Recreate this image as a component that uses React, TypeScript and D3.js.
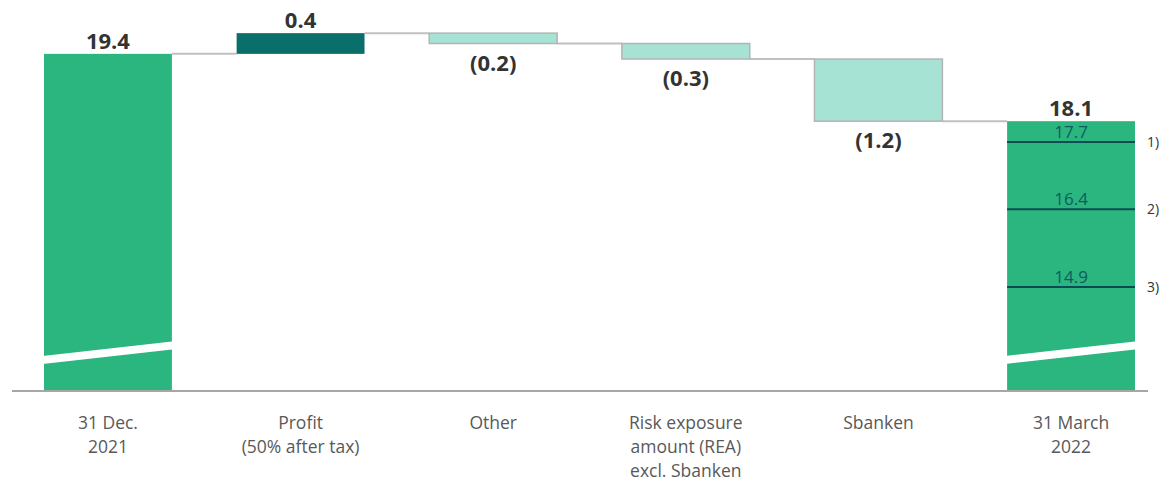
import React from "react";
import * as d3 from "d3";

// Waterfall: CET1 ratio bridge (per cent)
const categories: string[][] = [
  ["31 Dec.", "2021"],
  ["Profit", "(50% after tax)"],
  ["Other"],
  ["Risk exposure", "amount (REA)", "excl. Sbanken"],
  ["Sbanken"],
  ["31 March", "2022"],
];
const stepValues: number[] = [19.4, 0.4, -0.2, -0.3, -1.2];
const stepKinds: string[] = ["total", "delta", "delta", "delta", "delta", "total"];
const thresholdValues: number[] = [17.7, 16.4, 14.9];
const thresholdNotes: string[] = ["1)", "2)", "3)"];

const W = 1161;
const H = 481;
const BASE_Y = 391;
const BREAK_VALUE = 13.63;

const COLORS = {
  total: "#2bb680",
  up: "#0a6e6b",
  down: "#a7e3d4",
  stroke: "#b4b4b4",
  connector: "#c0c0c0",
  axis: "#a6a6a6",
  value: "#333333",
  category: "#595959",
  threshold: "#0b4b55",
  thresholdText: "#0f5b5e",
};

const fmt = (v: number) => (v < 0 ? `(${Math.abs(v).toFixed(1)})` : v.toFixed(1));

export default function App() {
  // Running levels for each bar
  type Bar = { i: number; kind: string; v0: number; v1: number; value: number };
  const bars: Bar[] = [];
  let level = 0;
  stepValues.forEach((v, i) => {
    if (stepKinds[i] === "total") {
      bars.push({ i, kind: "total", v0: 0, v1: v, value: v });
      level = v;
    } else {
      bars.push({ i, kind: v >= 0 ? "up" : "down", v0: level, v1: level + v, value: v });
      level += v;
    }
  });
  bars.push({ i: 5, kind: "total", v0: 0, v1: level, value: level });

  const x = d3
    .scaleBand<number>()
    .domain(d3.range(categories.length))
    .range([44, 1135])
    .paddingInner(0.336)
    .paddingOuter(0);
  const bw = x.bandwidth();

  // Broken axis: totals run down to the plot floor
  const y = d3.scaleLinear().domain([12.89, 20.44]).range([BASE_Y, 0]);
  const yOf = (v: number) => (v <= 0 ? BASE_Y : y(v));

  const last = bars[bars.length - 1];
  const lastX = x(last.i)!;

  return (
    <svg
      width={W}
      height={H}
      style={{ position: "absolute", left: 0, top: 0, background: "#fff" }}
      fontFamily="'Open Sans', 'Noto Sans', sans-serif"
    >
      {/* connectors */}
      {bars.slice(0, -1).map((b, k) => {
        const x1 = x(b.i)! + bw;
        const x2 = x(bars[k + 1].i)!;
        return (
          <line key={`c${k}`} x1={x1} x2={x2} y1={y(b.v1)} y2={y(b.v1)} stroke={COLORS.connector} strokeWidth={2} />
        );
      })}

      {/* bars */}
      {bars.map((b) => {
        const top = Math.min(yOf(b.v0), yOf(b.v1));
        const bot = Math.max(yOf(b.v0), yOf(b.v1));
        const fill = b.kind === "total" ? COLORS.total : b.kind === "up" ? COLORS.up : COLORS.down;
        return (
          <rect
            key={`b${b.i}`}
            x={x(b.i)!}
            y={top}
            width={bw}
            height={bot - top}
            fill={fill}
            stroke={b.kind === "down" ? COLORS.stroke : "none"}
            strokeWidth={1.5}
          />
        );
      })}

      {/* axis break marks on total bars */}
      {bars
        .filter((b) => b.kind === "total")
        .map((b) => {
          const cx = x(b.i)!;
          const yc = y(BREAK_VALUE);
          const x0 = cx - (b.i === 0 ? 8 : 28);
          const x1 = cx + bw + (b.i === 0 ? 18 : 0);
          const slope = -17 / 153;
          const mid = cx + bw / 2;
          const ya = yc + (x0 - mid) * slope;
          const yb = yc + (x1 - mid) * slope;
          const t = 4;
          return (
            <polygon
              key={`br${b.i}`}
              points={`${x0},${ya - t} ${x1},${yb - t} ${x1},${yb + t} ${x0},${ya + t}`}
              fill="#ffffff"
            />
          );
        })}

      {/* threshold lines in closing bar */}
      {thresholdValues.map((t, k) => (
        <g key={`t${k}`}>
          <line x1={lastX} x2={lastX + bw} y1={y(t)} y2={y(t)} stroke={COLORS.threshold} strokeWidth={2} />
          <text x={lastX + bw / 2} y={y(t) - 4} textAnchor="middle" fontSize={17} fill={COLORS.thresholdText}>
            {t.toFixed(1)}
          </text>
          <text x={lastX + bw + 12} y={y(t) + 5} fontSize={14} fill="#333">
            {thresholdNotes[k]}
          </text>
        </g>
      ))}

      {/* baseline */}
      <line x1={12} x2={1148} y1={BASE_Y} y2={BASE_Y} stroke={COLORS.axis} strokeWidth={2} />

      {/* value labels */}
      {bars.map((b) => {
        const top = Math.min(yOf(b.v0), yOf(b.v1));
        const bot = Math.max(yOf(b.v0), yOf(b.v1));
        const above = b.kind !== "down";
        return (
          <text
            key={`v${b.i}`}
            x={x(b.i)! + bw / 2}
            y={above ? top - 5 : bot + 27}
            textAnchor="middle"
            fontSize={22}
            fontWeight={700}
            fill={COLORS.value}
          >
            {fmt(b.value)}
          </text>
        );
      })}

      {/* category labels */}
      {categories.map((lines, i) => (
        <text key={`k${i}`} x={x(i)! + bw / 2} y={429} textAnchor="middle" fontSize={17.5} fill={COLORS.category}>
          {lines.map((l, j) => (
            <tspan key={j} x={x(i)! + bw / 2} dy={j === 0 ? 0 : 24}>
              {l}
            </tspan>
          ))}
        </text>
      ))}
    </svg>
  );
}
